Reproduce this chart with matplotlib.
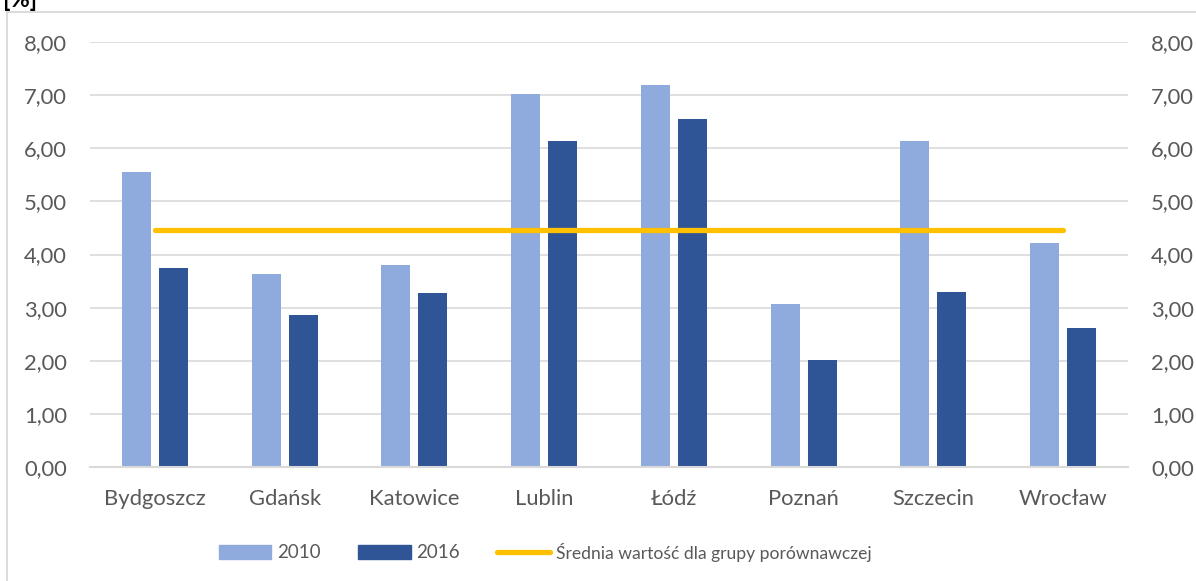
import matplotlib
matplotlib.use("Agg")
import matplotlib.pyplot as plt
from matplotlib.lines import Line2D
from matplotlib.patches import Patch
import numpy as np

categories = ["Bydgoszcz", "Gdańsk", "Katowice", "Lublin", "Łódź", "Poznań", "Szczecin", "Wrocław"]
values_2010 = [5.55, 3.64, 3.81, 7.02, 7.19, 3.07, 6.13, 4.21]
values_2016 = [3.74, 2.86, 3.28, 6.14, 6.55, 2.01, 3.29, 2.62]
average_value = 4.47
y_ticks = [0, 1, 2, 3, 4, 5, 6, 7, 8]
y_tick_labels = ["0,00", "1,00", "2,00", "3,00", "4,00", "5,00", "6,00", "7,00", "8,00"]
unit_label = "[%]"
legend_labels = ["2010", "2016", "Średnia wartość dla grupy porównawczej"]

plt.rcParams['font.family'] = ['Lato', 'DejaVu Sans']

W, H = 1196, 581
fig = plt.figure(figsize=(W / 100, H / 100), dpi=100)
ax = fig.add_axes([90 / W, 1 - 467 / H, (1128 - 90) / W, (467 - 42) / H])

x = np.arange(len(categories))
bw = 0.224
off = 0.143
c2010 = "#8FAADC"
c2016 = "#2F5597"
cavg = "#FFC000"
txt = "#595959"
grid = "#D9D9D9"

ax.bar(x - off, values_2010, width=bw, color=c2010, zorder=2)
ax.bar(x + off, values_2016, width=bw, color=c2016, zorder=2)
ax.plot([x[0], x[-1]], [average_value, average_value], color=cavg, lw=3.8,
        solid_capstyle='round', zorder=3)

ax.set_xlim(-0.5, len(categories) - 0.5)
ax.set_ylim(0, 8)
ax.set_yticks(y_ticks)
ax.set_yticklabels(y_tick_labels)
ax.set_xticks(x)
ax.set_xticklabels(categories)
ax.tick_params(axis='both', length=0, labelsize=15.8, labelcolor=txt)
ax.tick_params(axis='y', pad=16.5)
ax.tick_params(axis='x', pad=16)
ax.yaxis.grid(True, color=grid, lw=1.2, zorder=0)
ax.set_axisbelow(True)
for s in ['top', 'right', 'left']:
    ax.spines[s].set_visible(False)
ax.spines['bottom'].set_color(grid)
ax.spines['bottom'].set_linewidth(1.5)

ax2 = ax.twinx()
ax2.set_ylim(0, 8)
ax2.set_yticks(y_ticks)
ax2.set_yticklabels(y_tick_labels)
ax2.tick_params(axis='y', length=0, labelsize=15.8, labelcolor=txt, pad=16.5)
for s in ax2.spines.values():
    s.set_visible(False)

# outer frame lines
fig.add_artist(Line2D([7 / W, 7 / W], [0, 1 - 12 / H], transform=fig.transFigure, color=grid, lw=1.3))
fig.add_artist(Line2D([7 / W, 1], [1 - 12 / H, 1 - 12 / H], transform=fig.transFigure, color=grid, lw=1.3))

fig.text(3 / W, 1 - 7 / H, unit_label, fontsize=17, fontweight='bold', color='black',
         ha='left', va='baseline')

handles = [Patch(color=c2010), Patch(color=c2016),
           Line2D([0], [0], color=cavg, lw=3.8, solid_capstyle='round')]
leg = fig.legend(handles, legend_labels, loc='center', bbox_to_anchor=(545 / W, 1 - 552 / H),
                 ncol=3, frameon=False, fontsize=13.5, handlelength=2.8, handleheight=0.7,
                 handletextpad=0.3, columnspacing=2.0, labelcolor=txt)
leg.get_texts()[2].set_fontsize(12.6)

fig.savefig("out.png", dpi=100)
